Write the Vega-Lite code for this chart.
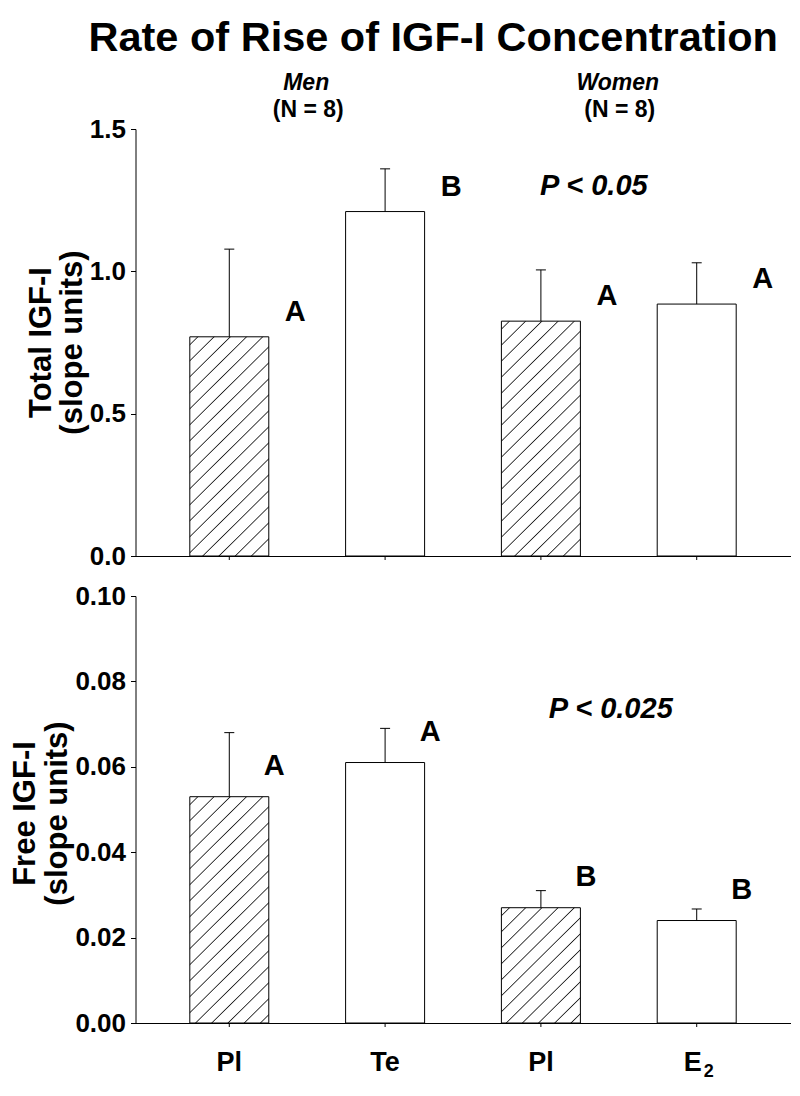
{
  "$schema": "https://vega.github.io/schema/vega-lite/v6.json",
  "padding": {"left": 9.5, "top": 17, "right": 10, "bottom": 5},
  "title": {"text": "Rate of Rise of IGF-I Concentration", "fontSize": 41.5, "fontWeight": "bold", "font": "Liberation Sans", "color": "#000", "anchor": "start", "frame": "group", "dx": -47, "offset": 13},
  "bounds": "flush",
  "spacing": 40,
  "config": {
    "view": {"stroke": null},
    "font": "Liberation Sans",
    "axis": {"domainColor": "#000", "tickColor": "#000", "labelColor": "#000", "titleColor": "#000", "labelFont": "Liberation Sans", "titleFont": "Liberation Sans", "labelFontWeight": "bold", "titleFontWeight": "bold", "labelFontSize": 26, "titleFontSize": 31, "grid": false, "domainWidth": 1, "tickWidth": 1}
  },
  "datasets": {
    "total": [
      {"group": "Men", "arm": "Placebo", "label": "Pl", "mean": 0.77, "upper": 1.078, "letter": "A"},
      {"group": "Men", "arm": "Hormone", "label": "Te", "mean": 1.21, "upper": 1.36, "letter": "B"},
      {"group": "Women", "arm": "Placebo", "label": "Pl", "mean": 0.825, "upper": 1.005, "letter": "A"},
      {"group": "Women", "arm": "Hormone", "label": "E₂", "mean": 0.885, "upper": 1.03, "letter": "A"}
    ],
    "free": [
      {"group": "Men", "arm": "Placebo", "label": "Pl", "mean": 0.053, "upper": 0.068, "letter": "A"},
      {"group": "Men", "arm": "Hormone", "label": "Te", "mean": 0.061, "upper": 0.069, "letter": "A"},
      {"group": "Women", "arm": "Placebo", "label": "Pl", "mean": 0.027, "upper": 0.031, "letter": "B"},
      {"group": "Women", "arm": "Hormone", "label": "E₂", "mean": 0.024, "upper": 0.0267, "letter": "B"}
    ]
  },
  "vconcat": [
    {
      "width": 655,
      "height": 427,
      "data": {"name": "total"},
      "layer": [
        {
          "mark": {"type": "bar", "stroke": "#000", "strokeWidth": 1},
          "encoding": {
            "x": {"field": "group", "type": "nominal", "sort": ["Men", "Women"], "scale": {"paddingInner": 0, "paddingOuter": 0.051}, "axis": {"labels": false, "ticks": false, "title": null}},
            "xOffset": {"field": "arm", "type": "nominal", "scale": {"domain": ["Placebo", "Hormone"], "paddingInner": 0.493, "paddingOuter": 0.2465}},
            "y": {"field": "mean", "type": "quantitative", "scale": {"domain": [0, 1.5], "nice": false, "zero": true},
              "axis": {"values": [0, 0.5, 1.0, 1.5], "format": ".1f", "tickSize": 5, "labelPadding": 5, "title": ["Total IGF-I", "(slope units)"], "titleAngle": -90, "titleX": -94, "titleY": 213, "titleAlign": "center", "titleBaseline": "middle", "titleLineHeight": 31}},
            "fill": {
              "condition": [
                {"test": "datum.arm == 'Placebo' && datum.group == 'Men'", "value": {"gradient": "linear", "x1": 0, "y1": 0, "x2": 0.4282, "y2": 1.2034, "stops": [
                  {"offset": 0.02288, "color": "#fff"}, {"offset": 0.02692, "color": "#222"}, {"offset": 0.03096, "color": "#fff"},
                  {"offset": 0.07671, "color": "#fff"}, {"offset": 0.08075, "color": "#222"}, {"offset": 0.08479, "color": "#fff"},
                  {"offset": 0.13055, "color": "#fff"}, {"offset": 0.13459, "color": "#222"}, {"offset": 0.13863, "color": "#fff"},
                  {"offset": 0.18439, "color": "#fff"}, {"offset": 0.18843, "color": "#222"}, {"offset": 0.19247, "color": "#fff"},
                  {"offset": 0.23822, "color": "#fff"}, {"offset": 0.24226, "color": "#222"}, {"offset": 0.24630, "color": "#fff"},
                  {"offset": 0.29206, "color": "#fff"}, {"offset": 0.29610, "color": "#222"}, {"offset": 0.30014, "color": "#fff"},
                  {"offset": 0.34589, "color": "#fff"}, {"offset": 0.34993, "color": "#222"}, {"offset": 0.35397, "color": "#fff"},
                  {"offset": 0.39973, "color": "#fff"}, {"offset": 0.40377, "color": "#222"}, {"offset": 0.40781, "color": "#fff"},
                  {"offset": 0.45356, "color": "#fff"}, {"offset": 0.45760, "color": "#222"}, {"offset": 0.46164, "color": "#fff"},
                  {"offset": 0.50740, "color": "#fff"}, {"offset": 0.51144, "color": "#222"}, {"offset": 0.51548, "color": "#fff"},
                  {"offset": 0.56124, "color": "#fff"}, {"offset": 0.56528, "color": "#222"}, {"offset": 0.56932, "color": "#fff"},
                  {"offset": 0.61507, "color": "#fff"}, {"offset": 0.61911, "color": "#222"}, {"offset": 0.62315, "color": "#fff"},
                  {"offset": 0.66891, "color": "#fff"}, {"offset": 0.67295, "color": "#222"}, {"offset": 0.67699, "color": "#fff"},
                  {"offset": 0.72274, "color": "#fff"}, {"offset": 0.72678, "color": "#222"}, {"offset": 0.73082, "color": "#fff"},
                  {"offset": 0.77658, "color": "#fff"}, {"offset": 0.78062, "color": "#222"}, {"offset": 0.78466, "color": "#fff"},
                  {"offset": 0.83041, "color": "#fff"}, {"offset": 0.83445, "color": "#222"}, {"offset": 0.83849, "color": "#fff"},
                  {"offset": 0.88425, "color": "#fff"}, {"offset": 0.88829, "color": "#222"}, {"offset": 0.89233, "color": "#fff"},
                  {"offset": 0.93809, "color": "#fff"}, {"offset": 0.94213, "color": "#222"}, {"offset": 0.94617, "color": "#fff"}
                ]}},
                {"test": "datum.arm == 'Placebo' && datum.group == 'Women'", "value": {"gradient": "linear", "x1": 0, "y1": 0, "x2": 0.3985, "y2": 1.1998, "stops": [
                  {"offset": 0.02173, "color": "#fff"}, {"offset": 0.02557, "color": "#222"}, {"offset": 0.02941, "color": "#fff"},
                  {"offset": 0.07287, "color": "#fff"}, {"offset": 0.07671, "color": "#222"}, {"offset": 0.08055, "color": "#fff"},
                  {"offset": 0.12402, "color": "#fff"}, {"offset": 0.12786, "color": "#222"}, {"offset": 0.13170, "color": "#fff"},
                  {"offset": 0.17516, "color": "#fff"}, {"offset": 0.17900, "color": "#222"}, {"offset": 0.18284, "color": "#fff"},
                  {"offset": 0.22630, "color": "#fff"}, {"offset": 0.23014, "color": "#222"}, {"offset": 0.23398, "color": "#fff"},
                  {"offset": 0.27745, "color": "#fff"}, {"offset": 0.28129, "color": "#222"}, {"offset": 0.28513, "color": "#fff"},
                  {"offset": 0.32859, "color": "#fff"}, {"offset": 0.33243, "color": "#222"}, {"offset": 0.33627, "color": "#fff"},
                  {"offset": 0.37973, "color": "#fff"}, {"offset": 0.38357, "color": "#222"}, {"offset": 0.38741, "color": "#fff"},
                  {"offset": 0.43088, "color": "#fff"}, {"offset": 0.43472, "color": "#222"}, {"offset": 0.43856, "color": "#fff"},
                  {"offset": 0.48202, "color": "#fff"}, {"offset": 0.48586, "color": "#222"}, {"offset": 0.48970, "color": "#fff"},
                  {"offset": 0.53316, "color": "#fff"}, {"offset": 0.53700, "color": "#222"}, {"offset": 0.54084, "color": "#fff"},
                  {"offset": 0.58431, "color": "#fff"}, {"offset": 0.58815, "color": "#222"}, {"offset": 0.59199, "color": "#fff"},
                  {"offset": 0.63545, "color": "#fff"}, {"offset": 0.63929, "color": "#222"}, {"offset": 0.64313, "color": "#fff"},
                  {"offset": 0.68659, "color": "#fff"}, {"offset": 0.69043, "color": "#222"}, {"offset": 0.69427, "color": "#fff"},
                  {"offset": 0.73774, "color": "#fff"}, {"offset": 0.74158, "color": "#222"}, {"offset": 0.74542, "color": "#fff"},
                  {"offset": 0.78888, "color": "#fff"}, {"offset": 0.79272, "color": "#222"}, {"offset": 0.79656, "color": "#fff"},
                  {"offset": 0.84002, "color": "#fff"}, {"offset": 0.84386, "color": "#222"}, {"offset": 0.84770, "color": "#fff"},
                  {"offset": 0.89117, "color": "#fff"}, {"offset": 0.89501, "color": "#222"}, {"offset": 0.89885, "color": "#fff"},
                  {"offset": 0.94231, "color": "#fff"}, {"offset": 0.94615, "color": "#222"}, {"offset": 0.94999, "color": "#fff"}
                ]}}
              ],
              "value": "#fff"
            }
          }
        },
        {
          "mark": {"type": "rule", "color": "#000", "strokeWidth": 1},
          "encoding": {
            "x": {"field": "group", "type": "nominal"},
            "xOffset": {"field": "arm", "type": "nominal"},
            "y": {"field": "mean", "type": "quantitative"},
            "y2": {"field": "upper"}
          }
        },
        {
          "mark": {"type": "point", "shape": "M-1,0L1,0", "size": 100, "stroke": "#000", "strokeWidth": 1, "filled": false, "opacity": 1},
          "encoding": {
            "x": {"field": "group", "type": "nominal"},
            "xOffset": {"field": "arm", "type": "nominal"},
            "y": {"field": "upper", "type": "quantitative"}
          }
        },
        {
          "mark": {"type": "point", "shape": "M0,0L0,1", "size": 64, "stroke": "#000", "strokeWidth": 1, "filled": false, "opacity": 1},
          "encoding": {
            "x": {"field": "group", "type": "nominal"},
            "xOffset": {"field": "arm", "type": "nominal"},
            "y": {"datum": 0}
          }
        },
        {
          "mark": {"type": "text", "fontSize": 29, "fontWeight": "bold", "dx": 66, "dy": -25, "baseline": "middle", "align": "center", "color": "#000"},
          "encoding": {
            "x": {"field": "group", "type": "nominal"},
            "xOffset": {"field": "arm", "type": "nominal"},
            "y": {"field": "mean", "type": "quantitative"},
            "text": {"field": "letter"}
          }
        },
        {
          "transform": [{"filter": "datum.arm == 'Placebo'"}],
          "mark": {"type": "text", "fontSize": 23, "fontWeight": "bold", "fontStyle": "italic", "dx": -1, "dy": -39, "baseline": "alphabetic", "align": "center", "color": "#000"},
          "encoding": {
            "x": {"field": "group", "type": "nominal"},
            "y": {"datum": 1.5},
            "text": {"field": "group"}
          }
        },
        {
          "transform": [{"filter": "datum.arm == 'Placebo'"}],
          "mark": {"type": "text", "fontSize": 23, "fontWeight": "bold", "dx": 1, "dy": -12, "baseline": "alphabetic", "align": "center", "color": "#000"},
          "encoding": {
            "x": {"field": "group", "type": "nominal"},
            "y": {"datum": 1.5},
            "text": {"value": "(N = 8)"}
          }
        },
        {
          "transform": [{"filter": "datum.arm == 'Placebo' && datum.group == 'Women'"}],
          "mark": {"type": "text", "fontSize": 29, "fontWeight": "bold", "fontStyle": "italic", "dx": -25, "baseline": "middle", "align": "center", "color": "#000"},
          "encoding": {
            "x": {"field": "group", "type": "nominal"},
            "y": {"datum": 1.301},
            "text": {"value": "P < 0.05"}
          }
        }
      ]
    },
    {
      "width": 655,
      "height": 427,
      "data": {"name": "free"},
      "layer": [
        {
          "mark": {"type": "bar", "stroke": "#000", "strokeWidth": 1},
          "encoding": {
            "x": {"field": "group", "type": "nominal", "sort": ["Men", "Women"], "scale": {"paddingInner": 0, "paddingOuter": 0.051}, "axis": {"labels": false, "ticks": false, "title": null}},
            "xOffset": {"field": "arm", "type": "nominal", "scale": {"domain": ["Placebo", "Hormone"], "paddingInner": 0.493, "paddingOuter": 0.2465}},
            "y": {"field": "mean", "type": "quantitative", "scale": {"domain": [0, 0.1], "nice": false, "zero": true},
              "axis": {"values": [0, 0.02, 0.04, 0.06, 0.08, 0.1], "format": ".2f", "tickSize": 5, "labelPadding": 5, "title": ["Free IGF-I", "(slope units)"], "titleAngle": -90, "titleX": -110, "titleY": 217, "titleAlign": "center", "titleBaseline": "middle", "titleLineHeight": 32}},
            "fill": {
              "condition": [
                {"test": "datum.arm == 'Placebo' && datum.group == 'Men'", "value": {"gradient": "linear", "x1": 0, "y1": 0, "x2": 0.4143, "y2": 1.2019, "stops": [
                  {"offset": 0.02235, "color": "#fff"}, {"offset": 0.02629, "color": "#222"}, {"offset": 0.03023, "color": "#fff"},
                  {"offset": 0.07493, "color": "#fff"}, {"offset": 0.07887, "color": "#222"}, {"offset": 0.08281, "color": "#fff"},
                  {"offset": 0.12751, "color": "#fff"}, {"offset": 0.13145, "color": "#222"}, {"offset": 0.13539, "color": "#fff"},
                  {"offset": 0.18009, "color": "#fff"}, {"offset": 0.18403, "color": "#222"}, {"offset": 0.18797, "color": "#fff"},
                  {"offset": 0.23267, "color": "#fff"}, {"offset": 0.23661, "color": "#222"}, {"offset": 0.24055, "color": "#fff"},
                  {"offset": 0.28525, "color": "#fff"}, {"offset": 0.28919, "color": "#222"}, {"offset": 0.29313, "color": "#fff"},
                  {"offset": 0.33783, "color": "#fff"}, {"offset": 0.34177, "color": "#222"}, {"offset": 0.34571, "color": "#fff"},
                  {"offset": 0.39041, "color": "#fff"}, {"offset": 0.39435, "color": "#222"}, {"offset": 0.39829, "color": "#fff"},
                  {"offset": 0.44299, "color": "#fff"}, {"offset": 0.44693, "color": "#222"}, {"offset": 0.45087, "color": "#fff"},
                  {"offset": 0.49557, "color": "#fff"}, {"offset": 0.49951, "color": "#222"}, {"offset": 0.50345, "color": "#fff"},
                  {"offset": 0.54815, "color": "#fff"}, {"offset": 0.55209, "color": "#222"}, {"offset": 0.55603, "color": "#fff"},
                  {"offset": 0.60073, "color": "#fff"}, {"offset": 0.60467, "color": "#222"}, {"offset": 0.60861, "color": "#fff"},
                  {"offset": 0.65331, "color": "#fff"}, {"offset": 0.65725, "color": "#222"}, {"offset": 0.66119, "color": "#fff"},
                  {"offset": 0.70589, "color": "#fff"}, {"offset": 0.70983, "color": "#222"}, {"offset": 0.71377, "color": "#fff"},
                  {"offset": 0.75847, "color": "#fff"}, {"offset": 0.76241, "color": "#222"}, {"offset": 0.76635, "color": "#fff"},
                  {"offset": 0.81105, "color": "#fff"}, {"offset": 0.81499, "color": "#222"}, {"offset": 0.81893, "color": "#fff"},
                  {"offset": 0.86363, "color": "#fff"}, {"offset": 0.86757, "color": "#222"}, {"offset": 0.87151, "color": "#fff"},
                  {"offset": 0.91621, "color": "#fff"}, {"offset": 0.92015, "color": "#222"}, {"offset": 0.92409, "color": "#fff"},
                  {"offset": 0.96879, "color": "#fff"}, {"offset": 0.97273, "color": "#222"}, {"offset": 0.97667, "color": "#fff"}
                ]}},
                {"test": "datum.arm == 'Placebo' && datum.group == 'Women'", "value": {"gradient": "linear", "x1": 0, "y1": 0, "x2": 0.7781, "y2": 1.1501, "stops": [
                  {"offset": 0.03518, "color": "#fff"}, {"offset": 0.04139, "color": "#222"}, {"offset": 0.04760, "color": "#fff"},
                  {"offset": 0.11795, "color": "#fff"}, {"offset": 0.12416, "color": "#222"}, {"offset": 0.13037, "color": "#fff"},
                  {"offset": 0.20072, "color": "#fff"}, {"offset": 0.20693, "color": "#222"}, {"offset": 0.21314, "color": "#fff"},
                  {"offset": 0.28350, "color": "#fff"}, {"offset": 0.28971, "color": "#222"}, {"offset": 0.29592, "color": "#fff"},
                  {"offset": 0.36627, "color": "#fff"}, {"offset": 0.37248, "color": "#222"}, {"offset": 0.37869, "color": "#fff"},
                  {"offset": 0.44904, "color": "#fff"}, {"offset": 0.45525, "color": "#222"}, {"offset": 0.46146, "color": "#fff"},
                  {"offset": 0.53182, "color": "#fff"}, {"offset": 0.53803, "color": "#222"}, {"offset": 0.54424, "color": "#fff"},
                  {"offset": 0.61459, "color": "#fff"}, {"offset": 0.62080, "color": "#222"}, {"offset": 0.62701, "color": "#fff"},
                  {"offset": 0.69736, "color": "#fff"}, {"offset": 0.70357, "color": "#222"}, {"offset": 0.70978, "color": "#fff"},
                  {"offset": 0.78014, "color": "#fff"}, {"offset": 0.78635, "color": "#222"}, {"offset": 0.79256, "color": "#fff"},
                  {"offset": 0.86291, "color": "#fff"}, {"offset": 0.86912, "color": "#222"}, {"offset": 0.87533, "color": "#fff"},
                  {"offset": 0.94568, "color": "#fff"}, {"offset": 0.95189, "color": "#222"}, {"offset": 0.95810, "color": "#fff"}
                ]}}
              ],
              "value": "#fff"
            }
          }
        },
        {
          "mark": {"type": "rule", "color": "#000", "strokeWidth": 1},
          "encoding": {
            "x": {"field": "group", "type": "nominal"},
            "xOffset": {"field": "arm", "type": "nominal"},
            "y": {"field": "mean", "type": "quantitative"},
            "y2": {"field": "upper"}
          }
        },
        {
          "mark": {"type": "point", "shape": "M-1,0L1,0", "size": 100, "stroke": "#000", "strokeWidth": 1, "filled": false, "opacity": 1},
          "encoding": {
            "x": {"field": "group", "type": "nominal"},
            "xOffset": {"field": "arm", "type": "nominal"},
            "y": {"field": "upper", "type": "quantitative"}
          }
        },
        {
          "mark": {"type": "point", "shape": "M0,0L0,1", "size": 64, "stroke": "#000", "strokeWidth": 1, "filled": false, "opacity": 1},
          "encoding": {
            "x": {"field": "group", "type": "nominal"},
            "xOffset": {"field": "arm", "type": "nominal"},
            "y": {"datum": 0}
          }
        },
        {
          "mark": {"type": "text", "fontSize": 29, "fontWeight": "bold", "dx": 45, "dy": -31, "baseline": "middle", "align": "center", "color": "#000"},
          "encoding": {
            "x": {"field": "group", "type": "nominal"},
            "xOffset": {"field": "arm", "type": "nominal"},
            "y": {"field": "mean", "type": "quantitative"},
            "text": {"field": "letter"}
          }
        },
        {
          "transform": [{"filter": "datum.label != 'E₂'"}],
          "mark": {"type": "text", "fontSize": 27, "fontWeight": "bold", "dy": 40, "baseline": "middle", "align": "center", "color": "#000"},
          "encoding": {
            "x": {"field": "group", "type": "nominal"},
            "xOffset": {"field": "arm", "type": "nominal"},
            "y": {"datum": 0},
            "text": {"field": "label"}
          }
        },
        {
          "transform": [{"filter": "datum.label == 'E₂'"}],
          "mark": {"type": "text", "fontSize": 27, "fontWeight": "bold", "dx": -4, "dy": 40, "baseline": "middle", "align": "center", "color": "#000"},
          "encoding": {
            "x": {"field": "group", "type": "nominal"},
            "xOffset": {"field": "arm", "type": "nominal"},
            "y": {"datum": 0},
            "text": {"value": "E"}
          }
        },
        {
          "transform": [{"filter": "datum.label == 'E₂'"}],
          "mark": {"type": "text", "fontSize": 18, "fontWeight": "bold", "dx": 12, "dy": 49, "baseline": "middle", "align": "center", "color": "#000"},
          "encoding": {
            "x": {"field": "group", "type": "nominal"},
            "xOffset": {"field": "arm", "type": "nominal"},
            "y": {"datum": 0},
            "text": {"value": "2"}
          }
        },
        {
          "transform": [{"filter": "datum.arm == 'Placebo' && datum.group == 'Women'"}],
          "mark": {"type": "text", "fontSize": 29, "fontWeight": "bold", "fontStyle": "italic", "dx": -8, "baseline": "middle", "align": "center", "color": "#000"},
          "encoding": {
            "x": {"field": "group", "type": "nominal"},
            "y": {"datum": 0.0735},
            "text": {"value": "P < 0.025"}
          }
        }
      ]
    }
  ]
}
